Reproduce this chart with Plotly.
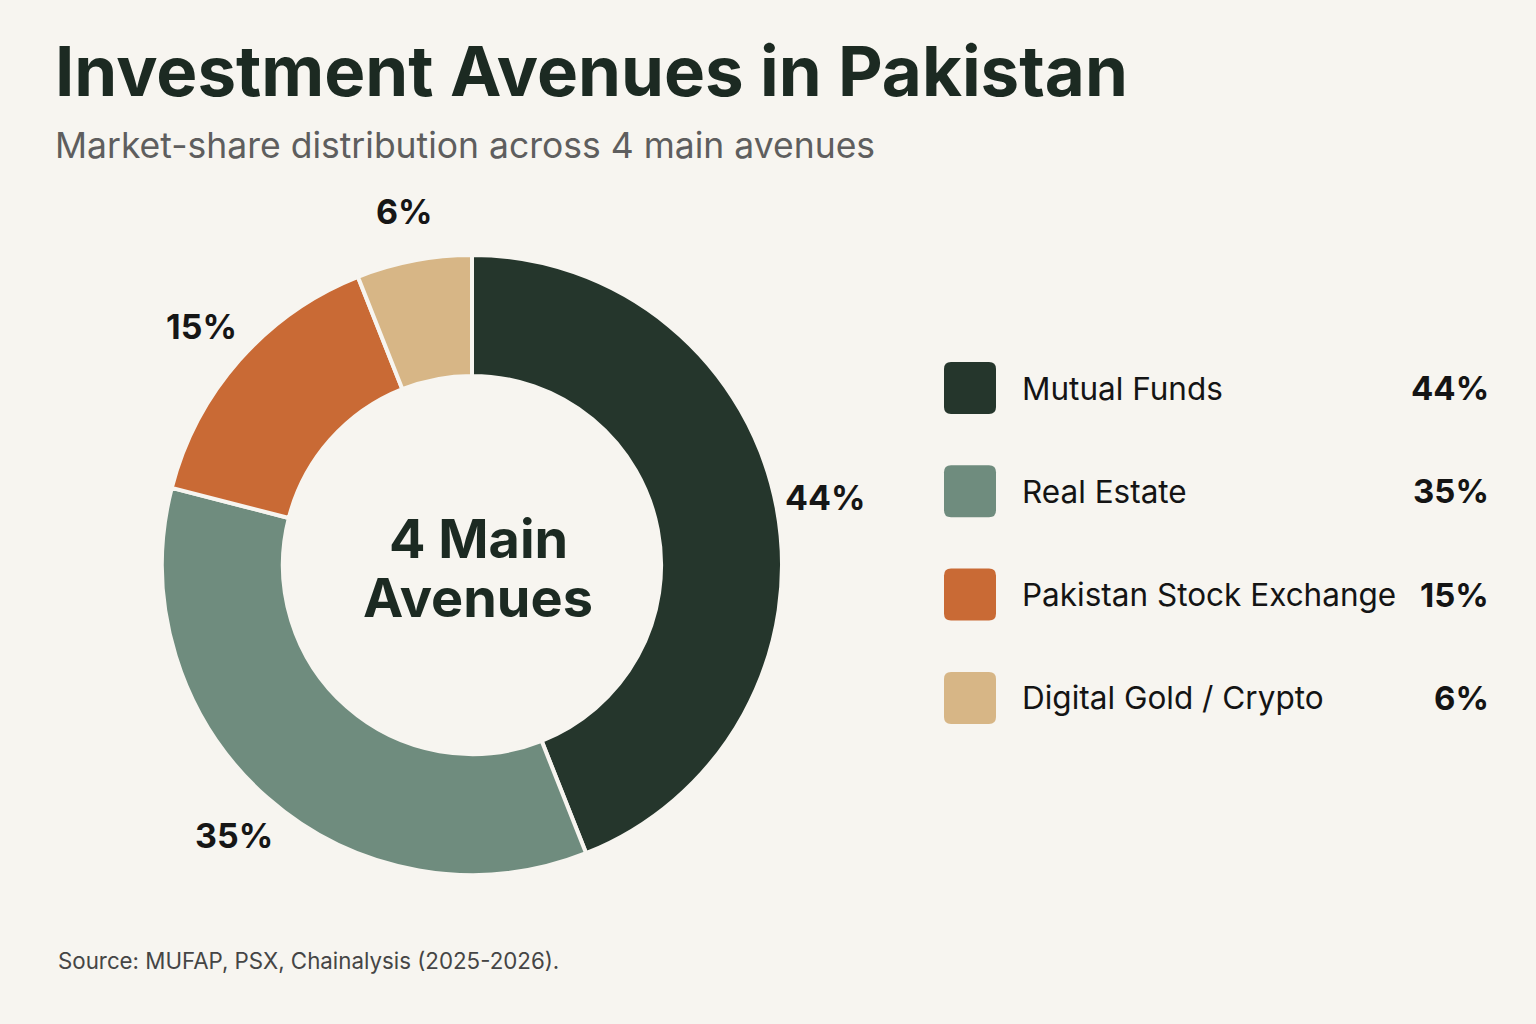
import math
import plotly.graph_objects as go

# ---- data ----
categories = ["Mutual Funds", "Real Estate", "Pakistan Stock Exchange", "Digital Gold / Crypto"]
shares = [44, 35, 15, 6]
colors = ["#25362C", "#6F8C7E", "#C96A35", "#D7B686"]
title_text = "Investment Avenues in Pakistan"
subtitle_text = "Market-share distribution across 4 main avenues"
center_lines = ["4 Main", "Avenues"]
source_text = "Source: MUFAP, PSX, Chainalysis (2025-2026)."

W, H = 1536, 1024
BG = "#F7F5F0"
FONT = "Inter"

# donut geometry (pixels)
cx, cy, R = 472, 565, 310
label_r = 360

fig = go.Figure()
fig.add_trace(go.Pie(
    labels=categories, values=shares, sort=False, direction="clockwise", rotation=0,
    hole=0.61, textinfo="none", hoverinfo="label+percent",
    marker=dict(colors=colors, line=dict(color=BG, width=4)),
    domain=dict(x=[(cx - R) / W, (cx + R) / W], y=[1 - (cy + R) / H, 1 - (cy - R) / H]),
    showlegend=False,
))

# invisible pixel axes for layout elements
fig.update_xaxes(range=[0, W], visible=False, fixedrange=True)
fig.update_yaxes(range=[H, 0], visible=False, fixedrange=True)

ann = []
# title / subtitle / source
ann.append(dict(x=53, y=71, text=f"<b>{title_text}</b>", xanchor="left", yanchor="middle",
                font=dict(family=FONT, size=69, color="#1C2A22")))
ann.append(dict(x=53, y=145, text=subtitle_text, xanchor="left", yanchor="middle",
                font=dict(family=FONT, size=35.5, color="#5E5E5E")))
ann.append(dict(x=56, y=960, text=source_text, xanchor="left", yanchor="middle",
                font=dict(family=FONT, size=22.3, color="#454545")))
# center text
for i, line in enumerate(center_lines):
    ann.append(dict(x=cx + 6, y=538 + i * 59, text=f"<b>{line}</b>", xanchor="center", yanchor="middle",
                    font=dict(family=FONT, size=54, color="#1C2A22")))

# outside percentage labels from data
total = sum(shares)
cum = 0
for v in shares:
    mid = (cum + v / 2) / total * 2 * math.pi
    cum += v
    lx = cx + label_r * math.sin(mid)
    ly = cy - label_r * math.cos(mid)
    ann.append(dict(x=lx, y=ly, text=f"<b>{v}%</b>", xanchor="center", yanchor="middle",
                    font=dict(family=FONT, size=34, color="#161616")))

# custom legend
shapes = []
leg_y0, leg_dy = 388, 103.3
for i, (c, v, col) in enumerate(zip(categories, shares, colors)):
    y = leg_y0 + i * leg_dy
    x0, x1, y0, y1, r = 944, 996, y - 26, y + 26, 7
    path = (f"M{x0+r},{y0} L{x1-r},{y0} Q{x1},{y0} {x1},{y0+r} L{x1},{y1-r} Q{x1},{y1} {x1-r},{y1} "
            f"L{x0+r},{y1} Q{x0},{y1} {x0},{y1-r} L{x0},{y0+r} Q{x0},{y0} {x0+r},{y0} Z")
    shapes.append(dict(type="path", path=path, xref="x", yref="y", fillcolor=col, line=dict(width=0)))
    ann.append(dict(x=1020, y=y, text=c, xanchor="left", yanchor="middle",
                    font=dict(family=FONT, size=31.5, color="#141414")))
    ann.append(dict(x=1491, y=y, text=f"<b>{v}%</b>", xanchor="right", yanchor="middle",
                    font=dict(family=FONT, size=33, color="#141414")))

for a in ann:
    a.setdefault("xref", "x")
    a.setdefault("yref", "y")
    a["showarrow"] = False

fig.update_layout(
    width=W, height=H, margin=dict(l=0, r=0, t=0, b=0),
    paper_bgcolor=BG, plot_bgcolor=BG,
    annotations=ann, shapes=shapes,
)
fig.write_html("out.html", config={"displayModeBar": False})
